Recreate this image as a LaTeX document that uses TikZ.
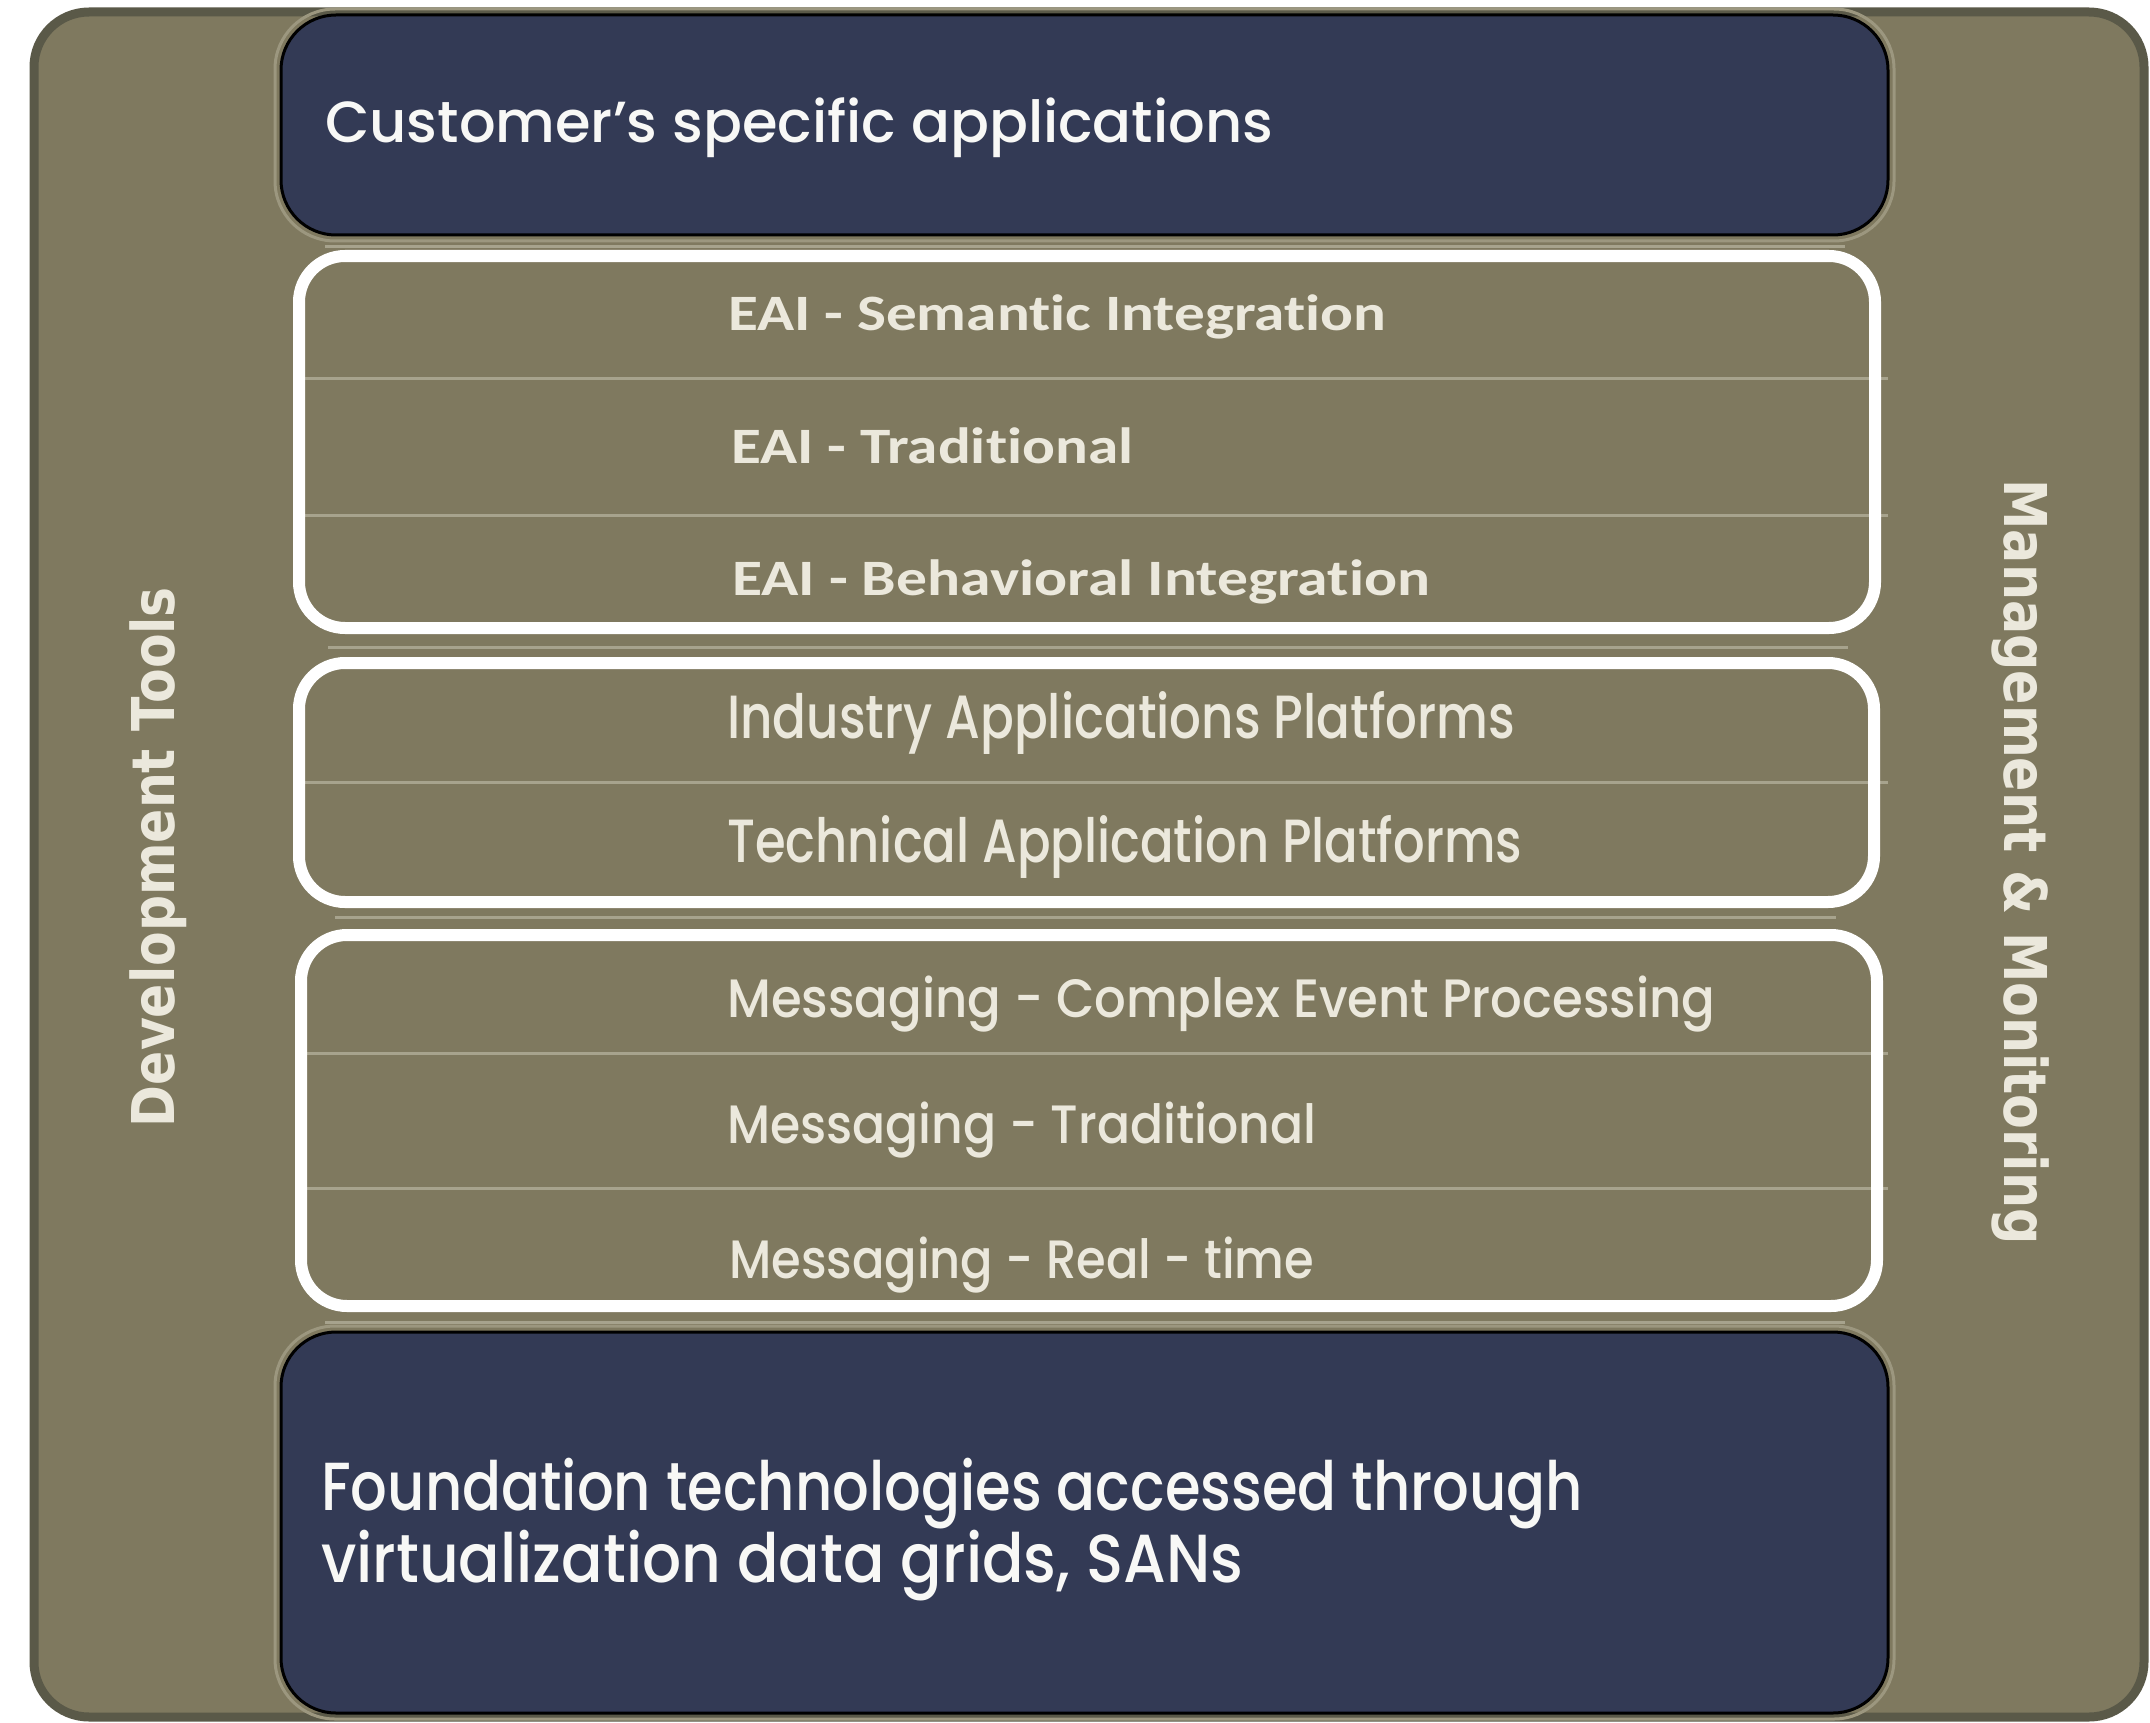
\documentclass[tikz,border=0pt]{standalone}
\usepackage{fontspec}
\usepackage{graphicx}
\setmainfont{Poppins Medium}
\newfontfamily\eaifont[Ligatures=NoCommon]{Carlito}
\newfontfamily\sidefont{DejaVu Sans}

\definecolor{olive}{HTML}{7F795F}
\definecolor{olivedark}{HTML}{5A5948}
\definecolor{navy}{HTML}{333A55}
\definecolor{rulec}{HTML}{A7A38D}
\definecolor{glow}{HTML}{9C977F}
\definecolor{ink}{HTML}{EBE8DC}
\definecolor{paper}{HTML}{F8F8F6}

% font size in px (1 unit = 1pt = 1px)
\newcommand\fsz[1]{\fontsize{#1}{#1}\selectfont}
% stretch a line of text horizontally to a given width
\newcommand\fitto[2]{\resizebox{#1}{\height}{#2}}

\begin{document}
\begin{tikzpicture}[x=1pt,y=-1pt,
  frame/.style={fill=olive,draw=olivedark,line width=9pt,rounded corners=55pt},
  panel/.style={fill=navy,draw=black,line width=3pt,rounded corners=55pt},
  halo/.style={draw=glow,line width=3pt,rounded corners=60pt},
  group/.style={draw=white,line width=12pt,rounded corners=46pt},
  rule/.style={draw=rulec,line width=3pt},
  row/.style={anchor=base west,inner sep=0pt,text=ink},
  eai/.style={row,font=\eaifont\bfseries\fsz{51}},
  futura/.style={row,font=\fsz{#1}},
  headline/.style={anchor=base west,inner sep=0pt,text=paper,font=\fsz{#1}},
  side/.style={anchor=base,inner sep=0pt,text=ink,font=\sidefont\bfseries\fsz{59}}]

\useasboundingbox (0,0) rectangle (2150,1723);
\fill[white] (0,0) rectangle (2150,1723);

% outer frame
\path[frame] (34,12) rectangle (2144,1717);

% navy panels with their faint halo
\path[halo] (275,9) rectangle (1894,241);
\path[halo] (275,1326) rectangle (1894,1719);
\path[panel] (281,15) rectangle (1888,235);
\path[panel] (281,1332) rectangle (1888,1713);

% rules between the groups
\coordinate (g0l) at (325,247);  \coordinate (g0r) at (1845,247);
\coordinate (g1l) at (328,647);  \coordinate (g1r) at (1848,647);
\coordinate (g2l) at (335,917);  \coordinate (g2r) at (1836,917);
\coordinate (g3l) at (325,1322); \coordinate (g3r) at (1845,1322);
\draw[rule] (g0l) -- (g0r);
\draw[rule] (g1l) -- (g1r);
\draw[rule] (g2l) -- (g2r);
\draw[rule] (g3l) -- (g3r);

% rules between the rows of each group
\coordinate (r1l) at (300,378);  \coordinate (r1r) at (1888,378);
\coordinate (r2l) at (300,515);  \coordinate (r2r) at (1888,515);
\coordinate (r3l) at (300,782);  \coordinate (r3r) at (1888,782);
\coordinate (r4l) at (300,1053); \coordinate (r4r) at (1888,1053);
\coordinate (r5l) at (300,1188); \coordinate (r5r) at (1888,1188);
\draw[rule] (r1l) -- (r1r);
\draw[rule] (r2l) -- (r2r);
\draw[rule] (r3l) -- (r3r);
\draw[rule] (r4l) -- (r4r);
\draw[rule] (r5l) -- (r5r);

% white group outlines
\path[group] (299,256) rectangle (1875,628);
\path[group] (299,663) rectangle (1874,902);
\path[group] (301,935) rectangle (1877,1306);

% headline texts
\node[headline=58] (cust) at (325,143) {\fitto{948pt}{Customer’s specific applications}};
\node[headline=68] (foundA) at (321,1510) {\fitto{1262pt}{Foundation technologies accessed through}};
\node[headline=68] (foundB) at (321,1582) {\fitto{922pt}{virtualization data grids, SANs}};

% EAI rows
\node[eai] (eai1) at (728,330) {\fitto{658pt}{EAI - Semantic Integration}};
\node[eai] (eai2) at (731,463) {\fitto{402pt}{EAI - Traditional}};
\node[eai] (eai3) at (732,595) {\fitto{698pt}{EAI - Behavioral Integration}};

% platform rows
\node[futura=61] (ind) at (727,738) {\fitto{788pt}{Industry Applications Platforms}};
\node[futura=61] (tech) at (727,862) {\fitto{795pt}{Technical Application Platforms}};

% messaging rows
\node[futura=54] (msg1) at (727,1017) {\fitto{988pt}{Messaging - Complex Event Processing}};
\node[futura=54] (msg2) at (727,1143) {\fitto{589pt}{Messaging - Traditional}};
\node[futura=54] (msg3) at (729,1278) {\fitto{585pt}{Messaging - Real - time}};

% side labels
\node[side,rotate=90] (dev) at (174,857) {\fitto{540pt}{Development Tools}};
\node[side,rotate=-90] (mgmt) at (2004,862) {\fitto{765pt}{Management \& Monitoring}};
\end{tikzpicture}
\end{document}
